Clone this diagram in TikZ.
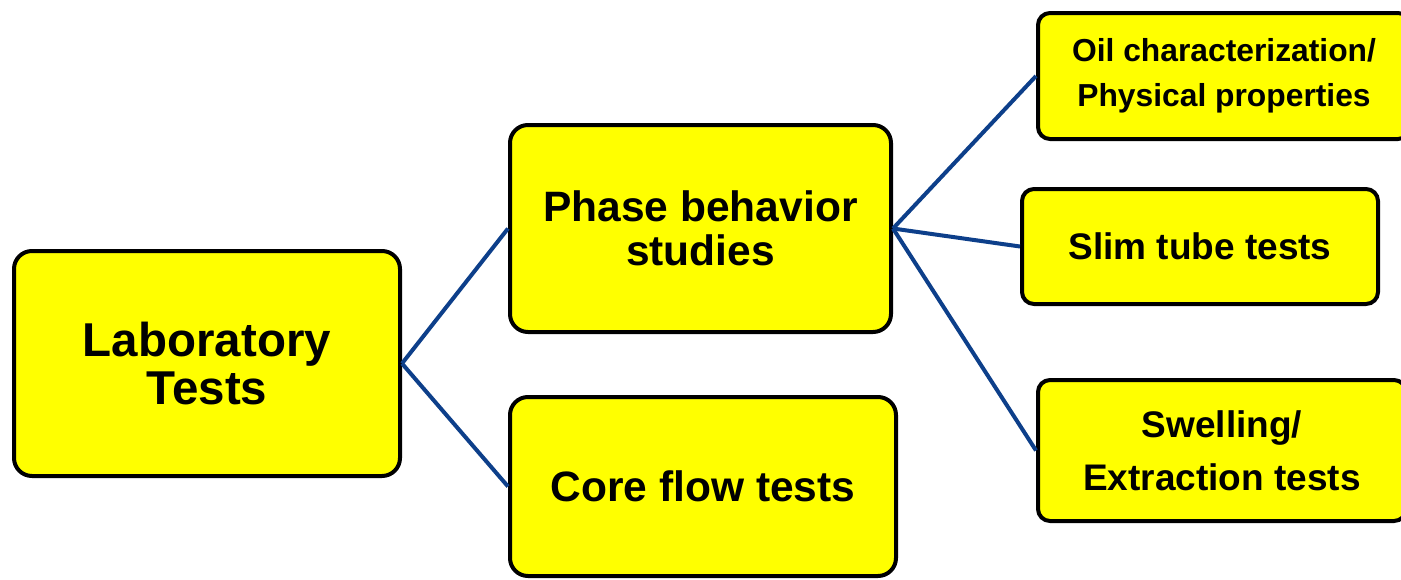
\documentclass[tikz,border=0pt]{standalone}
\usepackage{fontspec}
\setmainfont{Liberation Sans}
\definecolor{boxyellow}{HTML}{FFFF00}
\definecolor{linkblue}{HTML}{0D3F8A}
\tikzset{
  box/.style={draw=black, line width=4pt, fill=boxyellow, rounded corners=#1,
    inner sep=0pt, align=center},
  box/.default=18pt,
  fs/.style 2 args={font=\bfseries\fontsize{#1}{#2}\selectfont},
  link/.style={draw=linkblue, line width=4pt}
}
\begin{document}
\begin{tikzpicture}[x=1pt,y=-1pt]
\useasboundingbox (0,0) rectangle (1401,579);
\node[box, fs={47.5}{48}, minimum width=386pt, minimum height=225pt] (lab) at (207,363.5)
  {Laboratory\\Tests};
\node[box, fs={42.5}{44}, minimum width=381pt, minimum height=207pt] (phase) at (700.5,228.5)
  {Phase behavior\\studies};
\node[box, fs={42.5}{44}, minimum width=386pt, minimum height=179pt] (core) at (703,486.5)
  {Core flow tests};
\node[box=12pt, fs={31.8}{45}, minimum width=372pt, minimum height=126pt] (oil) at (1224,76)
  {Oil characterization/\\Physical properties};
\node[box=12pt, fs={37}{40}, minimum width=356pt, minimum height=115pt] (slim) at (1200,246.5)
  {Slim tube tests};
\node[box=12pt, fs={37}{53}, minimum width=368pt, minimum height=141pt] (swell) at (1222,450.5)
  {Swelling/\\Extraction tests};
\draw[link] (lab.east) -- (phase.west);
\draw[link] (lab.east) -- (core.west);
\draw[link] (phase.east) -- (oil.west);
\draw[link] (phase.east) -- (slim.west);
\draw[link] (phase.east) -- (swell.west);
\end{tikzpicture}
\end{document}
